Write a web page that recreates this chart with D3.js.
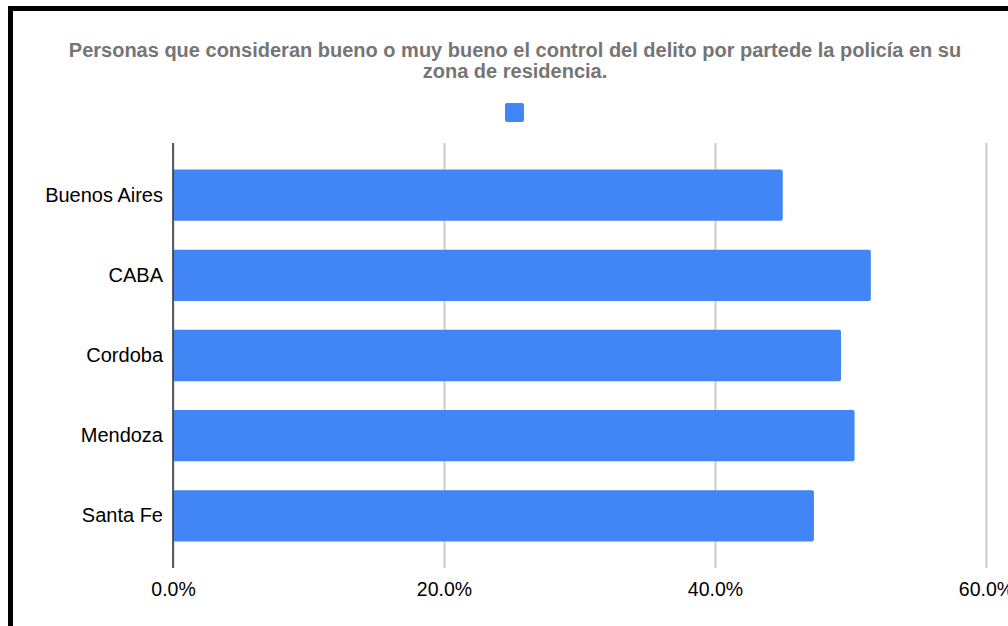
<!DOCTYPE html>
<html><head><meta charset="utf-8">
<script src="https://cdn.jsdelivr.net/npm/d3@7"></script>
<style>body{margin:0;background:#fff;}svg{display:block;font-family:"Liberation Sans",Arial,sans-serif;}</style>
</head><body>
<svg id="c" width="1008" height="626"></svg>
<script>
const categories = ["Buenos Aires","CABA","Cordoba","Mendoza","Santa Fe"];
const values = [0.450, 0.515, 0.493, 0.503, 0.473];
const ticks = [0, 0.2, 0.4, 0.6];
const titleLines = ["Personas que consideran bueno o muy bueno el control del delito por partede la policía en su","zona de residencia."];

const svg = d3.select("#c");
svg.append("rect").attr("x",10.5).attr("y",8.5).attr("width",1100).attr("height",700)
  .attr("fill","#fff").attr("stroke","#000").attr("stroke-width",5);

const x = d3.scaleLinear().domain([0,0.6]).range([173,986]);
const y = d3.scaleBand().domain(categories).range([143,568]).paddingInner(0.36).paddingOuter(0.33);

// title
svg.append("g").selectAll("text").data(titleLines).join("text")
  .attr("x",515).attr("y",(d,i)=>57+i*20.5).attr("text-anchor","middle")
  .attr("font-size",20).attr("font-weight","bold").attr("fill","#757575").text(d=>d);

// legend
svg.append("rect").attr("x",505).attr("y",103).attr("width",19).attr("height",19).attr("rx",2).attr("fill","#4285f4");

// gridlines
const xAxis = d3.axisBottom(x).tickValues(ticks).tickFormat(d3.format(".1%")).tickSize(-(568-143));
const gx = svg.append("g").attr("transform","translate(0,568)").call(xAxis);
gx.select(".domain").remove();
gx.selectAll(".tick line").attr("stroke","#cccccc").attr("stroke-width",2);
gx.selectAll(".tick text").attr("font-size",19.5).attr("fill","#000").attr("font-family","Liberation Sans, Arial, sans-serif").attr("y",28).attr("dy",0);

// bars
svg.append("g").selectAll("rect").data(categories).join("rect")
  .attr("x",x(0)).attr("y",d=>y(d)).attr("height",y.bandwidth())
  .attr("width",(d,i)=>x(values[i])-x(0)).attr("rx",2).attr("fill","#4285f4");

// baseline axis
svg.append("line").attr("x1",x(0)).attr("x2",x(0)).attr("y1",143).attr("y2",568).attr("stroke","#333").attr("stroke-width",1.5);

// y labels
const yAxis = d3.axisLeft(y).tickSize(0).tickPadding(10);
const gy = svg.append("g").attr("transform",`translate(${x(0)},0)`).call(yAxis);
gy.select(".domain").remove();
gy.selectAll(".tick text").attr("font-size",20).attr("fill","#000").attr("font-family","Liberation Sans, Arial, sans-serif");
</script>
</body></html>
